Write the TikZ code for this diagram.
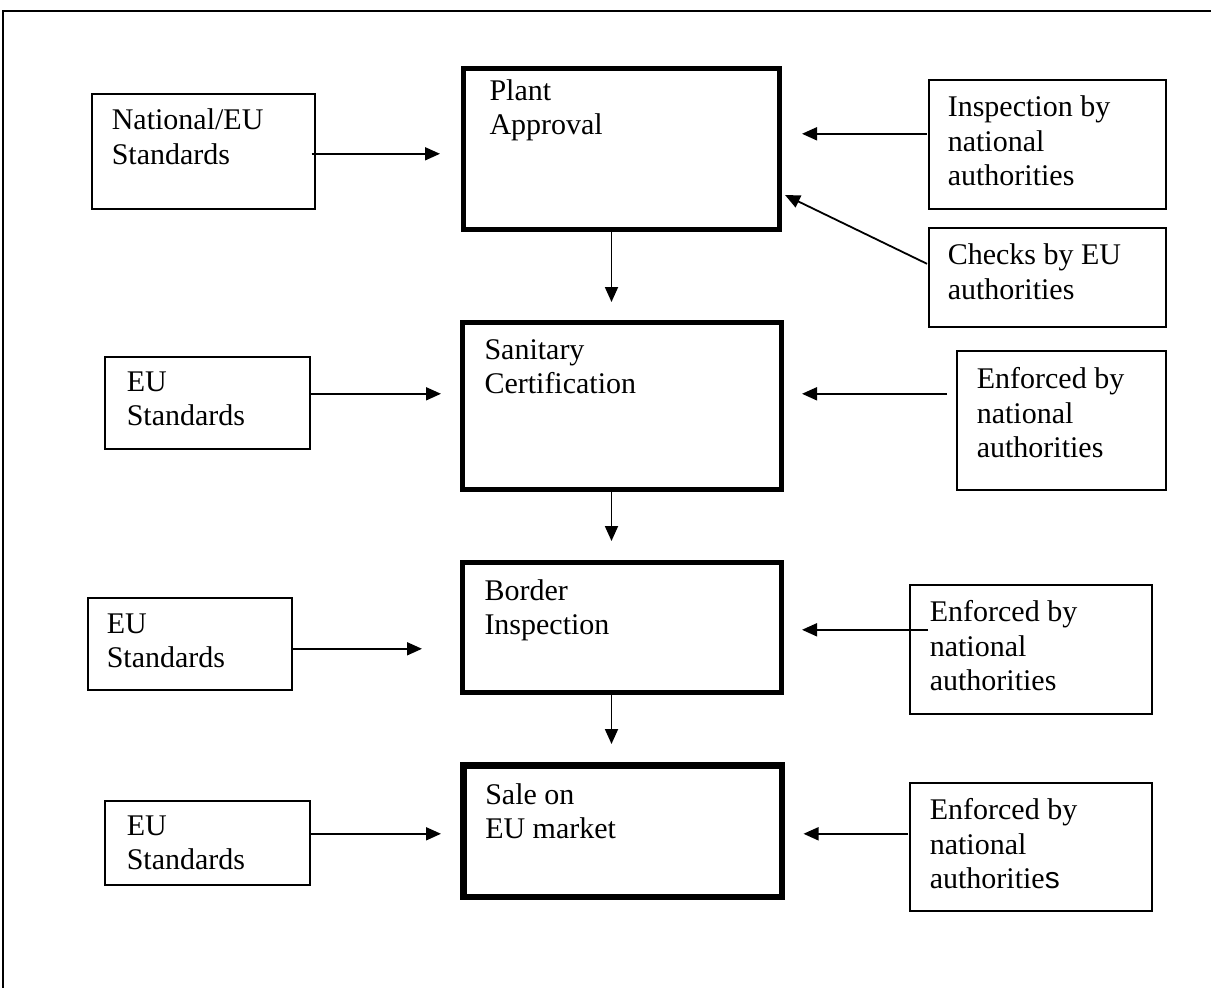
\documentclass[tikz,border=0pt]{standalone}
\usepackage{fontspec}
\setmainfont{Liberation Serif}
\setsansfont{Liberation Sans}
\usetikzlibrary{arrows.meta, calc}

% top-aligned box text: width, height (pt), lines
\newcommand{\boxtext}[3]{\parbox[t][#2pt][t]{#1pt}{\fontsize{30}{34.5}\selectfont #3}}

\tikzset{
  basebox/.style={rectangle, draw=black, anchor=north west},
  stagebox/.style={basebox, line width=5pt},
  salebox/.style={basebox, line width=6.5pt},
  sidebox/.style={basebox, line width=1.6pt},
  arrow/.style={-{Triangle[length=15pt, width=13pt]}, line width=1.8pt},
  frameline/.style={line width=1.8pt}
}

\begin{document}
\begin{tikzpicture}[x=1pt, y=-1pt]
  \useasboundingbox (0,0) rectangle (1211,988);
  \draw[frameline] (3,988) -- (3,11) -- (1211,11);

  % stages
  \node[stagebox, inner xsep=26.5pt, inner ysep=11.5pt] (plant) at (460.5,65.5)
        {\boxtext{263}{138}{Plant\\Approval}};
  \node[stagebox, inner xsep=22.5pt, inner ysep=17.5pt] (sanitary) at (459.5,319.5)
        {\boxtext{274}{132}{Sanitary\\Certification}};
  \node[stagebox, inner xsep=22.5pt, inner ysep=17.5pt] (border) at (459.5,559.5)
        {\boxtext{274}{95}{Border\\Inspection}};
  \node[salebox, inner xsep=21.75pt, inner ysep=17.75pt] (sale) at (460.25,762.25)
        {\boxtext{275}{96}{Sale on\\EU market}};

  % standards
  \node[sidebox, inner xsep=20pt, inner ysep=15pt] (nateu) at (91,93)
        {\boxtext{183}{85}{National/EU\\Standards}};
  \node[sidebox, inner xsep=22pt, inner ysep=15pt] (euone) at (104,356)
        {\boxtext{161}{62}{EU\\Standards}};
  \node[sidebox, inner xsep=19pt, inner ysep=16pt] (eutwo) at (87,597)
        {\boxtext{166}{60}{EU\\Standards}};
  \node[sidebox, inner xsep=22pt, inner ysep=15pt] (euthree) at (104,800)
        {\boxtext{161}{54}{EU\\Standards}};

  % authorities
  \node[sidebox, inner xsep=19pt, inner ysep=16pt] (insp) at (928,79)
        {\boxtext{199}{97}{Inspection by\\national\\authorities}};
  \node[sidebox, inner xsep=19pt, inner ysep=16pt] (checks) at (928,227)
        {\boxtext{199}{67}{Checks by EU\\authorities}};
  \node[sidebox, inner xsep=20pt, inner ysep=17pt] (enfone) at (956,350)
        {\boxtext{169}{105}{Enforced by\\national\\authorities}};
  \node[sidebox, inner xsep=20pt, inner ysep=16pt] (enftwo) at (909,584)
        {\boxtext{202}{97}{Enforced by\\national\\authorities}};
  \node[sidebox, inner xsep=20pt, inner ysep=16pt] (enfthree) at (909,782)
        {\boxtext{202}{96}{Enforced by\\national\\authoritie{\sffamily s}}};

  % flow down
  \draw[arrow] ($(plant.south)+(-9.5,0)$) coordinate (p1) -- ($(p1 |- sanitary.north)+(0,-17.5)$);
  \draw[arrow] ($(sanitary.south)+(-10,0)$) coordinate (p2) -- ($(p2 |- border.north)+(0,-18.5)$);
  \draw[arrow] ($(border.south)+(-10,0)$) coordinate (p3) -- ($(p3 |- sale.north)+(0,-18.25)$);

  % inputs from the left
  \draw[arrow] ($(nateu.east)+(-4,2.5)$) -- ($(plant.west |- nateu.east)+(-20.5,2.5)$);
  \draw[arrow] ($(euone.east)+(0,-9)$) -- ($(sanitary.west |- euone.east)+(-18.5,-9)$);
  \draw[arrow] ($(eutwo.east)+(0,5)$) -- ($(border.west |- eutwo.east)+(-37.5,5)$);
  \draw[arrow] ($(euthree.east)+(0,-9)$) -- ($(sale.west |- euthree.east)+(-19.25,-9)$);

  % inputs from the right
  \draw[arrow] ($(insp.west)+(-1,-10.5)$) -- ($(plant.east |- insp.west)+(20.5,-10.5)$);
  \draw[arrow] ($(checks.west)+(-1,-13.5)$) -- ($(plant.south east)+(3.5,-36.5)$);
  \draw[arrow] ($(enfone.west)+(-9,-26.5)$) -- ($(sanitary.east |- enfone.west)+(18.5,-26.5)$);
  \draw[arrow] ($(enftwo.west)+(19,-19.5)$) -- ($(border.east |- enftwo.west)+(18.5,-19.5)$);
  \draw[arrow] ($(enfthree.west)+(-1,-13)$) -- ($(sale.east |- enfthree.west)+(18.25,-13)$);
\end{tikzpicture}
\end{document}
